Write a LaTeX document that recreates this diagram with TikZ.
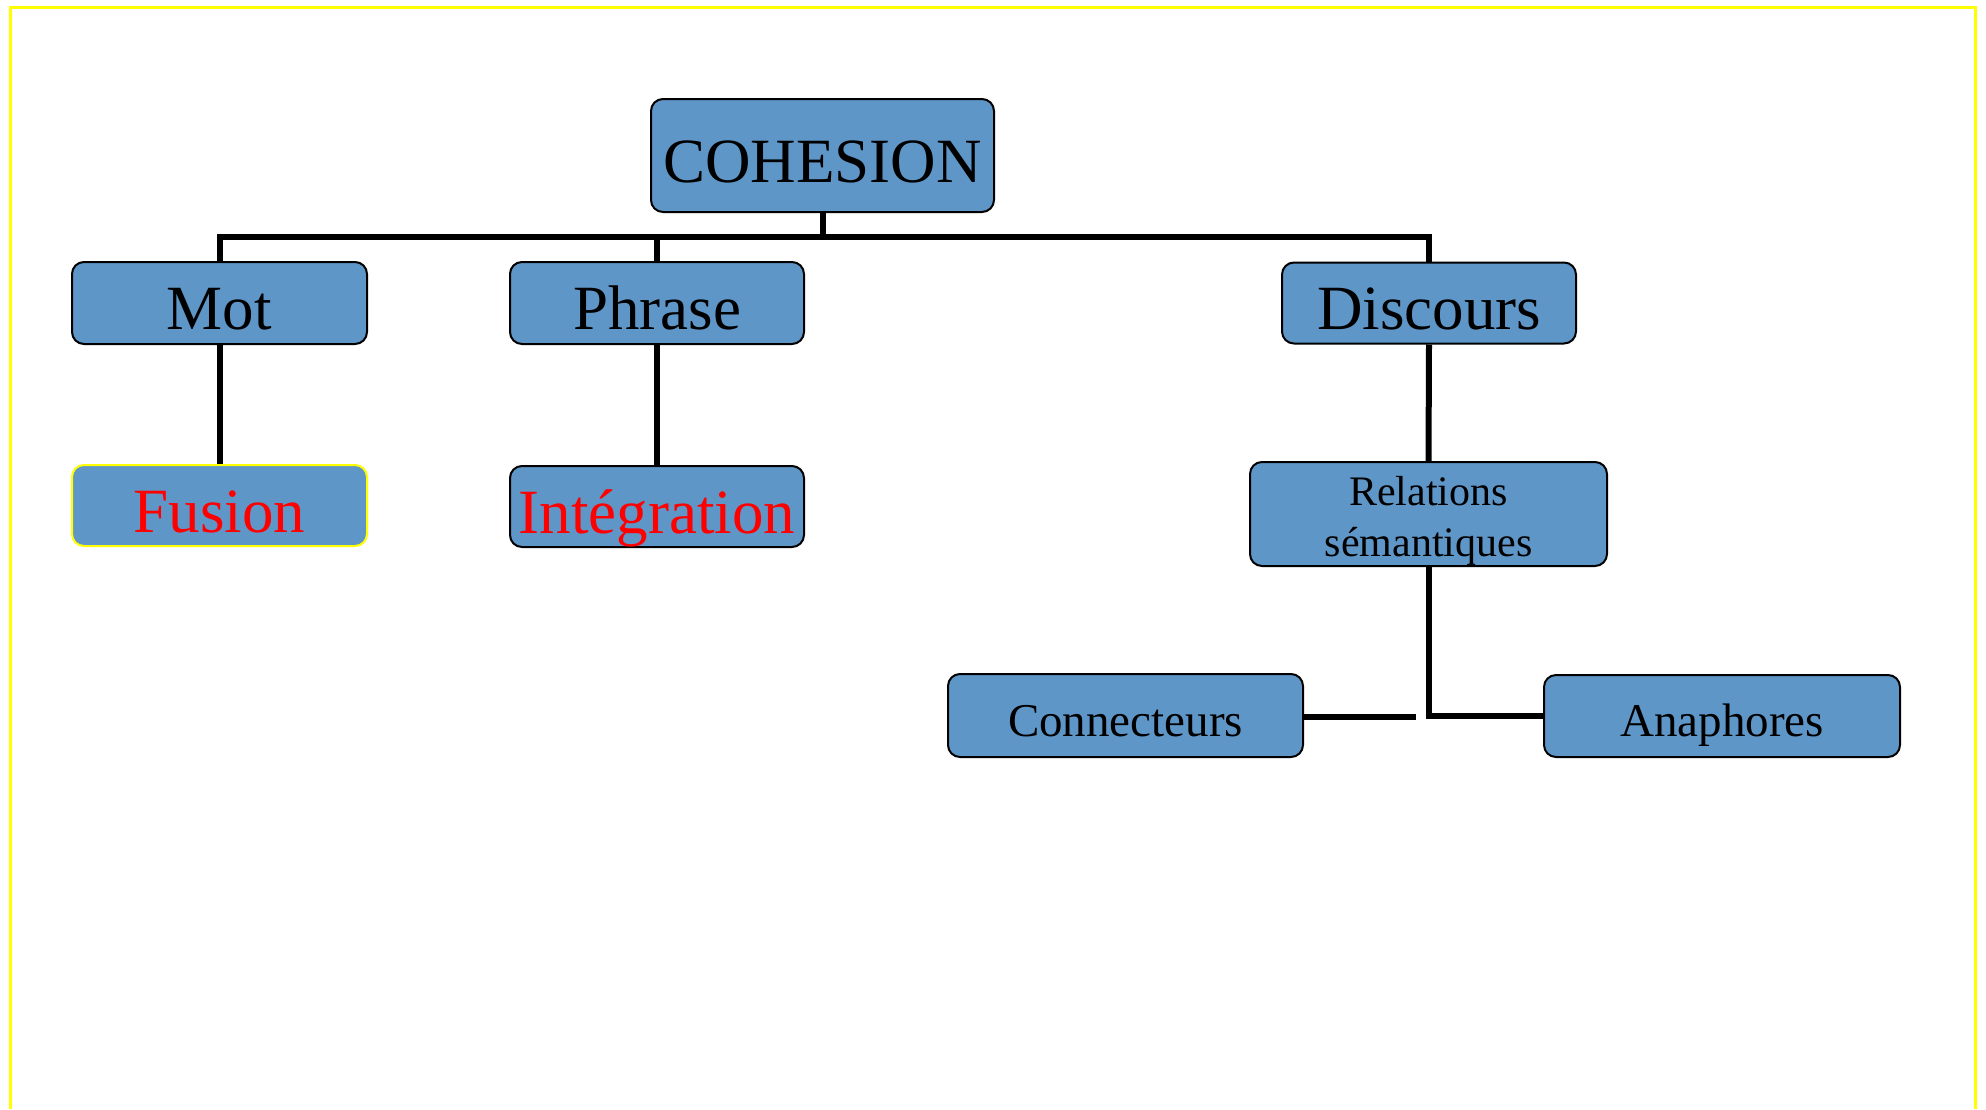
\documentclass[tikz,border=0pt]{standalone}
\usepackage{fontspec}
\setmainfont{Liberation Serif}
\definecolor{boxblue}{RGB}{95,150,200}
\definecolor{txtred}{RGB}{255,0,0}
\definecolor{frameyellow}{RGB}{255,255,0}
\begin{document}
\begin{tikzpicture}[x=1pt,y=-1pt,
  box/.style={rectangle, rounded corners=12pt, draw=black, line width=2pt, fill=boxblue,
    inner sep=0pt, text=black},
  big/.style={font=\fontsize{63}{70}\selectfont, text height=56pt, text depth=3pt},
  mid/.style={font=\fontsize{47}{52}\selectfont, text height=43pt, text depth=2pt},
  small/.style={font=\fontsize{42}{51}\selectfont},
  link/.style={line width=6pt, draw=black}]
\useasboundingbox (0,0) rectangle (1986,1109);
\draw[frameyellow, line width=3pt] (10,1109) -- (10,7.5) -- (1975,7.5) -- (1975,1109);

\node[box, big, minimum width=343pt, minimum height=113pt] (coh) at (822.5,155.5) {COHESION};
\node[box, big, minimum width=295pt, minimum height=82pt] (mot) at (219.5,303) {Mot};
\node[box, big, minimum width=294pt, minimum height=82pt] (phr) at (657,303) {Phrase};
\node[box, big, minimum width=294pt, minimum height=81pt] (dis) at (1429,303) {Discours};
\node[box, big, draw=frameyellow, text=txtred, minimum width=295pt, minimum height=81pt] (fus) at (219.5,505.5) {Fusion};
\node[box, big, text=txtred, minimum width=294pt, minimum height=81pt] (int) at (657,506.5) {Intégration};
\node[box, small, minimum width=357pt, minimum height=104pt] (rel) at (1428.5,514)
  {\raisebox{-42pt}[0pt][0pt]{\begin{tabular}[b]{@{}c@{}}Relations\\sémantiques\end{tabular}}};
\node[box, mid, minimum width=355pt, minimum height=83pt] (con) at (1125.5,715.5) {Connecteurs};
\node[box, mid, minimum width=356pt, minimum height=82pt] (ana) at (1722,716) {Anaphores};

\coordinate (bus) at (822.5,237);
\coordinate (stub) at (1416,717);

\draw[link] (coh.south) -- (bus);
\draw[link] (mot.north) -- (mot.north |- bus) -- (dis.north |- bus) -- (dis.north);
\draw[link] (phr.north) -- (phr.north |- bus);
\draw[link] (mot.south) -- (fus.north);
\draw[link] (phr.south) -- (int.north);
\draw[link] (dis.south) -- (rel.north);
\draw[link] (rel.south) |- (ana.west);
\draw[link] (con.east |- stub) -- (stub);
\end{tikzpicture}
\end{document}
